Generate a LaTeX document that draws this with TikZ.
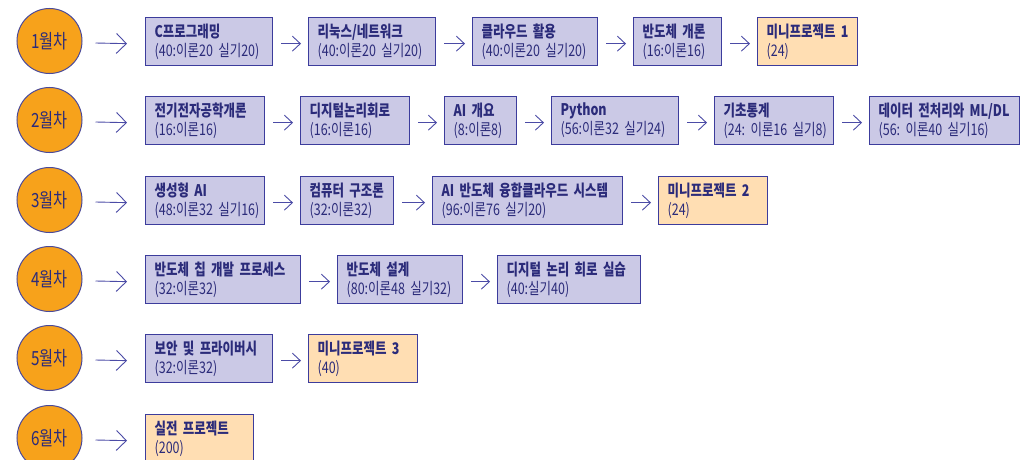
\documentclass[tikz,border=0pt]{standalone}
\usepackage{fontspec}
\setmainfont{Noto Sans CJK KR}[FakeStretch=0.78]
\usetikzlibrary{arrows.meta}
\frenchspacing
\definecolor{navy}{HTML}{2B2B7A}
\definecolor{boxline}{HTML}{3C3C9C}
\definecolor{lav}{HTML}{CBC9E6}
\definecolor{peach}{HTML}{FFDEB3}
\definecolor{orng}{HTML}{F7A21B}
\definecolor{circline}{HTML}{4A4A9A}
\definecolor{arrc}{HTML}{4B4BA6}
\newcommand{\tl}[2]{\mbox{\bfseries #1}\\\mbox{#2}}
\begin{document}
\begin{tikzpicture}[x=1pt,y=-1pt,
  box/.style={draw=boxline, line width=1.3pt, fill=lav, anchor=north west,
    minimum height=48pt, inner xsep=9pt, inner ysep=0pt, align=left, text=navy,
    font=\frenchspacing\fontsize{16pt}{19pt}\selectfont},
  mini/.style={box, fill=peach},
  month/.style={circle, draw=circline, line width=1pt, fill=orng, minimum size=65pt,
    inner sep=0pt, text=navy, font=\fontsize{19.5pt}{21pt}\selectfont},
  arr/.style={draw=arrc, line width=0.9pt, -{Straight Barb[length=8pt,width=15pt]}},
  bigarr/.style={draw=arrc, line width=0.9pt, -{Straight Barb[length=10pt,width=20pt]}}]
\useasboundingbox (0,0) rectangle (1027,460);
\fill[white] (0,0) rectangle (1027,460);
% circles
\node[month] (c1) at (49.5,41) {1월차};
\node[month] (c2) at (49.5,120) {2월차};
\node[month] (c3) at (49.5,200) {3월차};
\node[month] (c4) at (49.5,279) {4월차};
\node[month] (c5) at (49.5,358) {5월차};
\node[month] (c6) at (49.5,438) {6월차};
% row 1
\node[box, text width=109pt] (b11) at (145,17) {\tl{C프로그래밍}{(40:이론20 실기20)}};
\node[box, text width=109pt] (b12) at (308,17) {\tl{리눅스/네트워크}{(40:이론20 실기20)}};
\node[box, text width=107pt] (b13) at (472,17) {\tl{클라우드 활용}{(40:이론20 실기20)}};
\node[box, text width=70pt] (b14) at (633,17) {\tl{반도체 개론}{(16:이론16)}};
\node[mini, text width=82pt] (b15) at (757,17) {\tl{미니프로젝트 1}{(24)}};
% row 2
\node[box, text width=101pt] (b21) at (145,96) {\tl{전기전자공학개론}{(16:이론16)}};
\node[box, text width=91pt] (b22) at (300,96) {\tl{디지털논리회로}{(16:이론16)}};
\node[box, text width=54pt] (b23) at (444,96) {\tl{AI 개요}{(8:이론8)}};
\node[box, text width=109pt] (b24) at (551,96) {\tl{Python}{(56:이론32 실기24)}};
\node[box, text width=101pt] (b25) at (714,96) {\tl{기초통계}{(24: 이론16 실기8)}};
\node[box, text width=132pt] (b26) at (869,96) {\tl{데이터 전처리와 ML/DL}{(56: 이론40 실기16)}};
% row 3
\node[box, text width=101pt] (b31) at (145,176) {\tl{생성형 AI}{(48:이론32 실기16)}};
\node[box, text width=75pt] (b32) at (300,176) {\tl{컴퓨터 구조론}{(32:이론32)}};
\node[box, text width=172pt] (b33) at (432,176) {\tl{AI 반도체 융합클라우드 시스템}{(96:이론76 실기20)}};
\node[mini, text width=91pt] (b34) at (658,176) {\tl{미니프로젝트 2}{(24)}};
% row 4
\node[box, text width=137pt] (b41) at (145,255) {\tl{반도체 칩 개발 프로세스}{(32:이론32)}};
\node[box, text width=107pt] (b42) at (337,255) {\tl{반도체 설계}{(80:이론48 실기32)}};
\node[box, text width=125pt] (b43) at (497,255) {\tl{디지털 논리 회로 실습}{(40:실기40)}};
% row 5
\node[box, text width=109pt] (b51) at (145,334) {\tl{보안 및 프라이버시}{(32:이론32)}};
\node[mini, text width=91pt] (b52) at (308,334) {\tl{미니프로젝트 3}{(40)}};
% row 6
\node[mini, text width=90pt] (b61) at (145,414) {\tl{실전 프로젝트}{(200)}};
% big arrows
\foreach \c/\b in {c1/b11,c2/b21,c3/b31,c4/b41,c5/b51,c6/b61}
  \draw[bigarr] ([shift={(13,2)}]\c.east) -- ([shift={(-18,2)}]\b.west);
% small arrows
\foreach \a/\b in {b11/b12,b12/b13,b13/b14,b14/b15,
                   b21/b22,b22/b23,b23/b24,b24/b25,b25/b26,
                   b31/b32,b32/b33,b33/b34,
                   b41/b42,b42/b43,
                   b51/b52}
  \draw[arr] ([shift={(8,2)}]\a.east) -- ([shift={(-7,2)}]\b.west);
\end{tikzpicture}
\end{document}
